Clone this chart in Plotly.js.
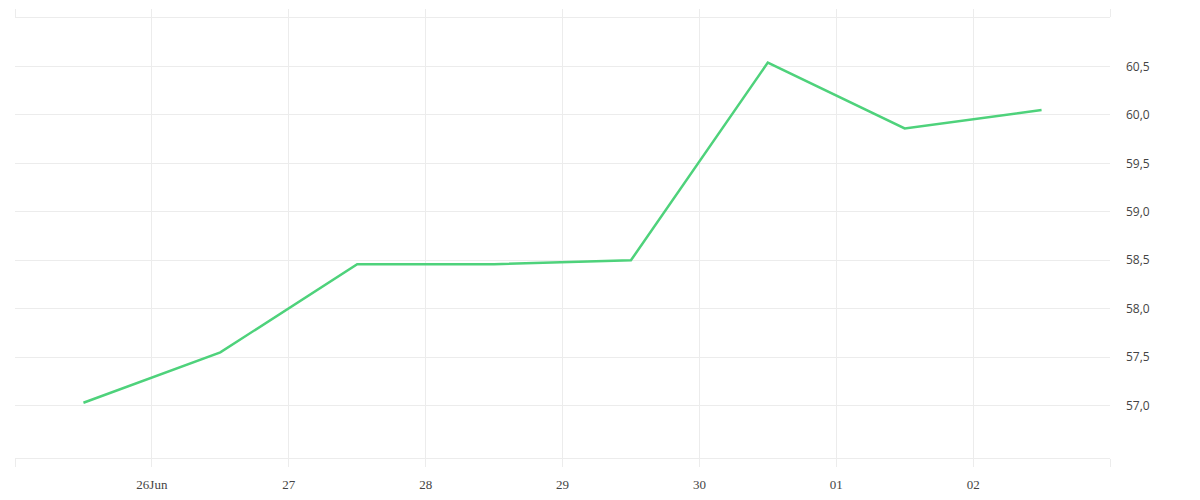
<!DOCTYPE html>
<html>
<head>
<meta charset="utf-8">
<script src="https://cdn.plot.ly/plotly-3.0.1.min.js"></script>
<style>
  html, body { margin: 0; padding: 0; background: #ffffff; }
  #chart { width: 1200px; height: 500px; }
</style>
</head>
<body>
<div id="chart"></div>
<script>
// daily samples, taken at midday
const dates  = ['2023-06-25 12:00', '2023-06-26 12:00', '2023-06-27 12:00', '2023-06-28 12:00',
                '2023-06-29 12:00', '2023-06-30 12:00', '2023-07-01 12:00', '2023-07-02 12:00'];
const values = [57.03, 57.55, 58.46, 58.46, 58.50, 60.54, 59.86, 60.05];

// x ticks: day boundaries, edge ones unlabeled
const xTickVals = ['2023-06-25', '2023-06-26', '2023-06-27', '2023-06-28', '2023-06-29',
                   '2023-06-30', '2023-07-01', '2023-07-02', '2023-07-03'];
const xTickText = ['', '26Jun', '27', '28', '29', '30', '01', '02', ''];
const yTickVals = [57.0, 57.5, 58.0, 58.5, 59.0, 59.5, 60.0, 60.5];

const GRID = '#ececec';

const traces = [
  {
    x: dates, y: values,
    mode: 'lines', line: { color: '#4ed27b', width: 2.5 },
    hoverinfo: 'skip', showlegend: false,
  },
];

const layout = {
  width: 1200, height: 500,
  margin: { t: 18, r: 90, b: 42, l: 15 },
  paper_bgcolor: '#ffffff',
  plot_bgcolor: '#ffffff',
  separators: ',.',
  showlegend: false,
  xaxis: {
    type: 'date',
    range: ['2023-06-25', '2023-07-03'],
    tickmode: 'array', tickvals: xTickVals, ticktext: xTickText,
    showgrid: true, gridcolor: GRID, gridwidth: 1,
    showline: true, linecolor: GRID, linewidth: 1, mirror: 'ticks',
    ticks: 'outside', ticklen: 8, tickcolor: GRID, tickwidth: 1,
    ticklabelstandoff: 6,
    zeroline: false,
    tickfont: { family: 'Liberation Serif, DejaVu Serif, serif', size: 13, color: '#444444' },
  },
  yaxis: {
    side: 'right',
    range: [56.46, 61.0],
    tickmode: 'array', tickvals: yTickVals, tickformat: '.1f',
    showgrid: true, gridcolor: GRID, gridwidth: 1,
    showline: false, zeroline: false,
    ticks: '', ticklabelstandoff: 15,
    tickfont: { family: 'Open Sans, sans-serif', size: 12, color: '#444444' },
  },
};

Plotly.newPlot('chart', traces, layout, { displayModeBar: false, staticPlot: true });
</script>
</body>
</html>
